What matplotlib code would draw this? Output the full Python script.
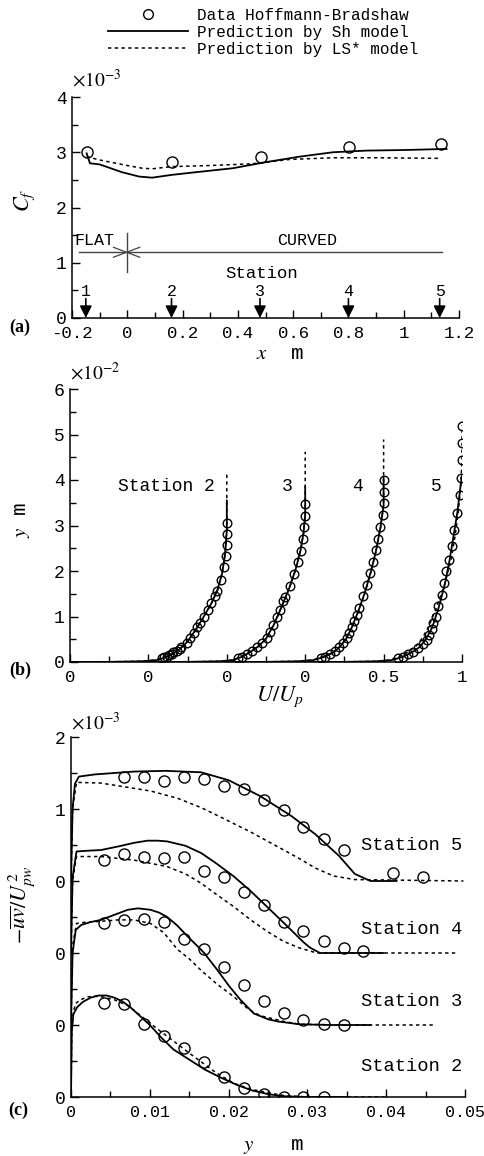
import matplotlib
matplotlib.use("Agg")
import matplotlib.pyplot as plt
from matplotlib.lines import Line2D
from matplotlib.ticker import MultipleLocator, FixedLocator, FixedFormatter

plt.rcParams['font.family'] = ['Liberation Mono', 'DejaVu Sans Mono']
plt.rcParams['mathtext.fontset'] = 'stix'
plt.rcParams['axes.unicode_minus'] = False

# ---------------- (a) skin friction ----------------
cf_data_x = [-0.147, 0.162, 0.484, 0.802, 1.135]
cf_data = [3.01, 2.83, 2.92, 3.10, 3.15]

cf_sh_x = [-0.147, -0.135, -0.10, -0.02, 0.043, 0.09, 0.16, 0.25, 0.381, 0.50, 0.623, 0.744, 0.865, 1.0, 1.155]
cf_sh = [2.98, 2.80, 2.78, 2.64, 2.56, 2.54, 2.59, 2.64, 2.71, 2.82, 2.92, 3.00, 3.03, 3.04, 3.06]

cf_ls_x = [-0.147, -0.10, 0.0, 0.055, 0.09, 0.16, 0.30, 0.45, 0.587, 0.744, 0.90, 1.13]
cf_ls = [2.92, 2.86, 2.76, 2.71, 2.70, 2.74, 2.76, 2.79, 2.87, 2.90, 2.90, 2.89]

station_x = [-0.15, 0.16, 0.48, 0.80, 1.13]
station_names = ['1', '2', '3', '4', '5']

# ---------------- (b) velocity profiles ----------------
b_names = ['Station 2', '3', '4', '5']

b_data_u = [
    [0.585, 0.60, 0.62, 0.63, 0.65, 0.66, 0.68, 0.70, 0.71, 0.745, 0.765, 0.79, 0.81, 0.83, 0.855,
     0.88, 0.90, 0.925, 0.94, 0.96, 0.985, 0.995, 1.0, 1.0, 1.0],
    [0.573, 0.595, 0.627, 0.659, 0.69, 0.722, 0.754, 0.775, 0.797, 0.818, 0.84, 0.86, 0.871, 0.905,
     0.93, 0.956, 0.975, 0.988, 0.995, 1.0, 1.0],
    [0.599, 0.626, 0.658, 0.69, 0.718, 0.743, 0.765, 0.781, 0.797, 0.813, 0.828, 0.845, 0.871, 0.896,
     0.913, 0.934, 0.952, 0.965, 0.977, 0.995, 1.0, 1.0, 1.0],
    [0.594, 0.626, 0.658, 0.69, 0.721, 0.753, 0.775, 0.791, 0.807, 0.817, 0.832, 0.849, 0.87, 0.885,
     0.90, 0.92, 0.937, 0.948, 0.97, 0.985, 0.995, 1.0, 1.0, 1.0],
]
b_data_y = [
    [0.08, 0.10, 0.12, 0.15, 0.18, 0.21, 0.25, 0.28, 0.32, 0.41, 0.52, 0.64, 0.76, 0.85, 0.98,
     1.14, 1.29, 1.45, 1.55, 1.80, 2.08, 2.33, 2.57, 2.82, 3.06],
    [0.08, 0.12, 0.18, 0.24, 0.32, 0.41, 0.52, 0.67, 0.81, 0.98, 1.14, 1.33, 1.42, 1.68,
     1.94, 2.19, 2.45, 2.70, 2.96, 3.21, 3.47],
    [0.08, 0.12, 0.17, 0.24, 0.32, 0.42, 0.52, 0.63, 0.76, 0.90, 1.03, 1.18, 1.44, 1.69,
     1.95, 2.20, 2.46, 2.70, 2.97, 3.23, 3.49, 3.74, 4.00],
    [0.08, 0.12, 0.17, 0.23, 0.30, 0.39, 0.48, 0.59, 0.72, 0.85, 1.00, 1.22, 1.47, 1.73,
     2.00, 2.25, 2.55, 2.90, 3.28, 3.67, 4.05, 4.44, 4.81, 5.18],
]

b_sh_u = [
    [0, 0.25, 0.45, 0.55, 0.60, 0.65, 0.70, 0.75, 0.80, 0.85, 0.90, 0.94, 0.97, 0.99, 1.0, 1.0],
    [0, 0.25, 0.45, 0.54, 0.60, 0.65, 0.70, 0.75, 0.80, 0.85, 0.90, 0.94, 0.97, 0.99, 1.0, 1.0],
    [0, 0.25, 0.45, 0.55, 0.62, 0.68, 0.72, 0.76, 0.80, 0.84, 0.88, 0.92, 0.95, 0.98, 1.0, 1.0],
    [0, 0.25, 0.45, 0.55, 0.62, 0.68, 0.73, 0.77, 0.81, 0.85, 0.89, 0.92, 0.945, 0.97, 0.99, 1.0],
]
b_sh_y = [
    [0, 0.003, 0.015, 0.04, 0.09, 0.17, 0.28, 0.45, 0.70, 0.98, 1.28, 1.58, 1.95, 2.40, 2.90, 3.55],
    [0, 0.003, 0.015, 0.04, 0.12, 0.22, 0.34, 0.51, 0.82, 1.22, 1.64, 2.05, 2.45, 2.85, 3.25, 3.85],
    [0, 0.003, 0.015, 0.04, 0.11, 0.21, 0.33, 0.50, 0.78, 1.13, 1.52, 2.00, 2.42, 2.95, 3.45, 4.07],
    [0, 0.003, 0.015, 0.04, 0.11, 0.21, 0.33, 0.50, 0.76, 1.18, 1.70, 2.22, 2.75, 3.28, 3.85, 4.10],
]
b_ls_u = [
    [0, 0.25, 0.45, 0.55, 0.60, 0.65, 0.70, 0.75, 0.80, 0.85, 0.90, 0.94, 0.97, 0.99, 1.0, 1.0],
    [0, 0.25, 0.45, 0.54, 0.60, 0.65, 0.70, 0.75, 0.80, 0.85, 0.90, 0.94, 0.97, 0.99, 1.0, 1.0],
    [0, 0.25, 0.45, 0.55, 0.62, 0.68, 0.72, 0.76, 0.80, 0.84, 0.88, 0.92, 0.95, 0.98, 1.0, 1.0],
    [0, 0.25, 0.45, 0.54, 0.60, 0.66, 0.71, 0.75, 0.79, 0.84, 0.89, 0.93, 0.955, 0.975, 0.99, 1.0, 1.0],
]
b_ls_y = [
    [0, 0.003, 0.016, 0.045, 0.10, 0.18, 0.29, 0.46, 0.70, 0.97, 1.27, 1.57, 1.93, 2.38, 2.95, 4.15],
    [0, 0.003, 0.016, 0.045, 0.13, 0.23, 0.35, 0.52, 0.82, 1.21, 1.63, 2.04, 2.44, 2.85, 3.25, 4.62],
    [0, 0.003, 0.016, 0.045, 0.12, 0.22, 0.34, 0.51, 0.78, 1.12, 1.51, 1.99, 2.41, 2.95, 3.45, 4.89],
    [0, 0.003, 0.015, 0.045, 0.12, 0.23, 0.36, 0.54, 0.80, 1.22, 1.72, 2.25, 2.75, 3.25, 3.80, 4.40, 5.20],
]

# ---------------- (c) shear stress profiles ----------------
c_names = ['Station 2', 'Station 3', 'Station 4', 'Station 5']

c_data_x = [
    [0.0042, 0.0067, 0.0093, 0.0118, 0.0143, 0.0169, 0.0194, 0.0219, 0.0245, 0.0270, 0.0295, 0.0321],
    [0.0042, 0.0067, 0.0093, 0.0118, 0.0143, 0.0169, 0.0194, 0.0219, 0.0245, 0.0270, 0.0295, 0.0321, 0.0346],
    [0.0042, 0.0067, 0.0093, 0.0118, 0.0143, 0.0169, 0.0194, 0.0219, 0.0245, 0.0270, 0.0295, 0.0321, 0.0346, 0.0371],
    [0.0067, 0.0093, 0.0118, 0.0143, 0.0169, 0.0194, 0.0219, 0.0245, 0.0270, 0.0295, 0.0321, 0.0346, 0.0409, 0.0447],
]
c_data = [
    [1.30, 1.29, 1.01, 0.85, 0.68, 0.48, 0.28, 0.13, 0.04, 0.0, 0.0, 0.0],
    [1.41, 1.46, 1.47, 1.43, 1.19, 1.05, 0.80, 0.56, 0.34, 0.16, 0.07, 0.01, 0.0],
    [1.29, 1.38, 1.34, 1.32, 1.34, 1.14, 1.06, 0.85, 0.66, 0.43, 0.30, 0.16, 0.07, 0.03],
    [1.44, 1.45, 1.39, 1.45, 1.42, 1.32, 1.28, 1.13, 0.99, 0.75, 0.59, 0.43, 0.11, 0.05],
]

c_sh_x = [
    [0, 0.0001, 0.0003, 0.0008, 0.0015, 0.0025, 0.0035, 0.0045, 0.0055, 0.0065, 0.0075, 0.0085, 0.0100,
     0.0115, 0.0130, 0.0150, 0.0170, 0.0190, 0.0210, 0.0230, 0.0250, 0.0270, 0.0300, 0.0350],
    [0, 0.0002, 0.0006, 0.0013, 0.0025, 0.0038, 0.0055, 0.0072, 0.0085, 0.0101, 0.0112, 0.0122, 0.0135,
     0.0148, 0.0160, 0.0169, 0.0186, 0.0200, 0.0215, 0.0232, 0.0250, 0.0262, 0.0290, 0.0330, 0.0380],
    [0, 0.0002, 0.0007, 0.0020, 0.0038, 0.0060, 0.0080, 0.0097, 0.0110, 0.0122, 0.0145, 0.0165, 0.0185,
     0.0207, 0.0228, 0.0249, 0.0268, 0.0283, 0.0295, 0.0304, 0.0316, 0.0397],
    [0, 0.0002, 0.0005, 0.0010, 0.0030, 0.0080, 0.0120, 0.0165, 0.0200, 0.0240, 0.0280, 0.0310, 0.0340,
     0.0360, 0.0380, 0.0413],
]
c_sh = [
    [0, 0.9, 1.15, 1.25, 1.32, 1.38, 1.41, 1.41, 1.38, 1.33, 1.25, 1.15, 1.00,
     0.82, 0.66, 0.52, 0.38, 0.27, 0.17, 0.09, 0.04, 0.01, 0, 0],
    [0, 1.0, 1.32, 1.39, 1.43, 1.46, 1.53, 1.60, 1.62, 1.60, 1.56, 1.50, 1.38,
     1.23, 1.10, 1.0, 0.76, 0.55, 0.35, 0.16, 0.08, 0.05, 0.01, 0, 0],
    [0, 1.05, 1.41, 1.42, 1.43, 1.48, 1.53, 1.56, 1.56, 1.55, 1.49, 1.39, 1.24,
     1.06, 0.86, 0.64, 0.44, 0.28, 0.15, 0.07, 0.0, 0.0],
    [0, 1.0, 1.35, 1.45, 1.48, 1.52, 1.53, 1.51, 1.40, 1.18, 0.90, 0.65, 0.35,
     0.10, 0.0, 0.0],
]
c_ls_x = [
    [0, 0.0001, 0.0003, 0.0006, 0.0012, 0.0021, 0.0030, 0.0040, 0.0055, 0.0072, 0.0085, 0.0101, 0.0115,
     0.0131, 0.0150, 0.0165, 0.0185, 0.0207, 0.0225, 0.0240, 0.0270, 0.0300, 0.0350, 0.0400],
    [0, 0.0002, 0.0007, 0.0020, 0.0038, 0.0060, 0.0080, 0.0101, 0.0118, 0.0135, 0.0150, 0.0165, 0.0185,
     0.0207, 0.0225, 0.0240, 0.0270, 0.0290, 0.0350, 0.0460],
    [0, 0.0002, 0.0007, 0.0038, 0.0080, 0.0122, 0.0145, 0.0165, 0.0185, 0.0207, 0.0228, 0.0249, 0.0270,
     0.0290, 0.0312, 0.0489],
    [0, 0.0002, 0.0007, 0.0038, 0.0101, 0.0135, 0.0165, 0.0195, 0.0228, 0.0260, 0.0290, 0.0310, 0.0333,
     0.0360, 0.0498],
]
c_ls = [
    [0, 0.95, 1.18, 1.30, 1.35, 1.39, 1.40, 1.39, 1.35, 1.27, 1.16, 1.02, 0.90,
     0.77, 0.61, 0.49, 0.33, 0.19, 0.12, 0.08, 0.02, 0, 0, 0],
    [0, 1.1, 1.41, 1.43, 1.44, 1.46, 1.46, 1.41, 1.28, 1.05, 0.92, 0.76, 0.57,
     0.39, 0.22, 0.13, 0.05, 0.01, 0, 0],
    [0, 1.0, 1.34, 1.34, 1.29, 1.20, 1.10, 0.97, 0.81, 0.64, 0.46, 0.30, 0.16,
     0.07, 0.0, 0.0],
    [0, 1.0, 1.37, 1.36, 1.25, 1.15, 1.02, 0.86, 0.68, 0.49, 0.31, 0.18, 0.07,
     0.02, 0.0],
]

W, H = 484, 1156
fig = plt.figure(figsize=(W / 100, H / 100), dpi=100)


def box(l, r, t, b):
    return [l / W, 1 - b / H, (r - l) / W, (b - t) / H]


def style(ax):
    for s in ['top', 'right']:
        ax.spines[s].set_visible(False)
    for s in ['left', 'bottom']:
        ax.spines[s].set_linewidth(1.1)
    ax.tick_params(which='both', direction='in', top=False, right=False, labelsize=13, width=1.0)
    ax.tick_params(which='major', length=6)
    ax.tick_params(which='minor', length=4)
    ax.tick_params(axis='x', pad=6, labelsize=12.5)
    ax.tick_params(axis='y', pad=4)


solid = dict(color='k', lw=1.3, ls='-')
dotted = dict(color='k', lw=1.1, ls=(0, (2.2, 2.2)))
circ = dict(ls='none', marker='o', mfc='none', mec='k', mew=1.0)

# ---- panel (a)
ax1 = fig.add_axes(box(72, 459, 97, 318))
style(ax1)
ax1.plot(cf_sh_x, cf_sh, **solid)
ax1.plot(cf_ls_x, cf_ls, **dotted)
ax1.plot(cf_data_x, cf_data, ms=8, **circ)
ax1.set_xlim(-0.2, 1.2)
ax1.set_ylim(0, 4)
ax1.xaxis.set_major_locator(MultipleLocator(0.2))
ax1.xaxis.set_minor_locator(MultipleLocator(0.1))
ax1.yaxis.set_major_locator(MultipleLocator(1))
ax1.yaxis.set_minor_locator(MultipleLocator(0.5))
ax1.xaxis.set_major_formatter(lambda v, p: f'{v:g}')
ax1.plot([-0.175, 1.14], [1.19, 1.19], color='#444444', lw=1.0)
ax1.plot([0, 0], [0.84, 1.53], color='#444444', lw=1.0)
ax1.plot([-0.05, 0.045], [1.28, 1.10], color='#444444', lw=0.9)
ax1.plot([-0.05, 0.045], [1.10, 1.28], color='#444444', lw=0.9)
ax1.text(-0.12, 1.41, 'FLAT', ha='center', va='center', fontsize=12)
ax1.text(0.65, 1.41, 'CURVED', ha='center', va='center', fontsize=12)
ax1.text(0.485, 0.80, 'Station', ha='center', va='center', fontsize=12.5)
for sx, sn in zip(station_x, station_names):
    ax1.annotate('', xy=(sx, 0.0), xytext=(sx, 0.35),
                 arrowprops=dict(arrowstyle='-|>', color='k', lw=1.2, mutation_scale=18,
                                 shrinkA=0, shrinkB=0))
    ax1.text(sx, 0.48, sn, ha='center', va='center', fontsize=12)
ax1.text(0.0, 1.03, r'$\times10^{-3}$', transform=ax1.transAxes, fontsize=14, ha='left', va='bottom')
fig.text(25 / W, 1 - 200 / H, r'$C_f$', rotation=90, fontsize=16, ha='center', va='center')
fig.text(280 / W, 1 - 354 / H, r'$x$  m', fontsize=15, ha='center', va='center')
fig.text(20 / W, 1 - 327 / H, '(a)', fontsize=13, fontweight='bold', family='Liberation Serif',
         ha='center', va='center')

# ---- panel (b)
ax2 = fig.add_axes(box(70, 462, 389, 662))
style(ax2)
for k in range(4):
    off = 0.5 * k
    ax2.plot([u + off for u in b_sh_u[k]], b_sh_y[k], **solid)
    ax2.plot([u + off for u in b_ls_u[k]], b_ls_y[k], **dotted)
    ax2.plot([u + off for u in b_data_u[k]], b_data_y[k], ms=6.2, **circ)
ax2.set_xlim(0, 2.5)
ax2.set_ylim(0, 6)
ax2.xaxis.set_major_locator(FixedLocator([0, 0.5, 1.0, 1.5, 2.0, 2.5]))
ax2.xaxis.set_major_formatter(FixedFormatter(['0', '0', '0', '0', '0.5', '1']))
ax2.xaxis.set_minor_locator(MultipleLocator(0.25))
ax2.yaxis.set_major_locator(MultipleLocator(1))
ax2.yaxis.set_minor_locator(MultipleLocator(0.5))
b_label_x = [0.92, 1.42, 1.87, 2.37]
for k in range(4):
    ax2.text(b_label_x[k], 3.85, b_names[k], ha='right', va='center', fontsize=13)
ax2.text(0.0, 1.02, r'$\times10^{-2}$', transform=ax2.transAxes, fontsize=14, ha='left', va='bottom')
fig.text(22 / W, 1 - 520 / H, r'$y$ m', rotation=90, fontsize=15, ha='center', va='center')
fig.text(280 / W, 1 - 697 / H, r'$U/U_p$', fontsize=16, ha='center', va='center')
fig.text(20 / W, 1 - 670 / H, '(b)', fontsize=13, fontweight='bold', family='Liberation Serif',
         ha='center', va='center')

# ---- panel (c)
ax3 = fig.add_axes(box(71, 465, 737, 1097))
style(ax3)
ax3.tick_params(axis='x', labelsize=12)
for k in range(4):
    ax3.plot(c_sh_x[k], [v + k for v in c_sh[k]], **solid)
    ax3.plot(c_ls_x[k], [v + k for v in c_ls[k]], **dotted)
    ax3.plot(c_data_x[k], [v + k for v in c_data[k]], ms=8, **circ)
ax3.set_xlim(0, 0.05)
ax3.set_ylim(0, 5)
ax3.xaxis.set_major_locator(MultipleLocator(0.01))
ax3.xaxis.set_minor_locator(MultipleLocator(0.005))
ax3.xaxis.set_major_formatter(lambda v, p: f'{v:g}')
ax3.yaxis.set_major_locator(FixedLocator([0, 1, 2, 3, 4, 5]))
ax3.yaxis.set_major_formatter(FixedFormatter(['0', '0', '0', '0', '1', '2']))
ax3.yaxis.set_minor_locator(MultipleLocator(0.5))
c_label_y = [0.42, 1.32, 2.32, 3.5]
for k in range(4):
    ax3.text(0.0496, c_label_y[k], c_names[k], ha='right', va='center', fontsize=13.5)
ax3.text(0.0, 1.01, r'$\times10^{-3}$', transform=ax3.transAxes, fontsize=14, ha='left', va='bottom')
fig.text(22 / W, 1 - 905 / H, r'$-\overline{uv}/U_{pw}^{\,2}$', rotation=90, fontsize=16,
         ha='center', va='center')
fig.text(273 / W, 1 - 1146 / H, r'$y$   m', fontsize=15, ha='center', va='center')
fig.text(18 / W, 1 - 1110 / H, '(c)', fontsize=13, fontweight='bold', family='Liberation Serif',
         ha='center', va='center')

# ---- legend
handles = [
    Line2D([], [], ms=7, **circ),
    Line2D([], [], **solid),
    Line2D([], [], **dotted),
]
labels = ['Data Hoffmann-Bradshaw', 'Prediction by Sh model', 'Prediction by LS* model']
fig.legend(handles, labels, loc='upper left', bbox_to_anchor=(108 / W, 1 - 8 / H), frameon=False,
           fontsize=11.5, handlelength=5.0, handletextpad=0.6, labelspacing=0.12, borderpad=0,
           borderaxespad=0)

fig.savefig('out.png', dpi=100)
